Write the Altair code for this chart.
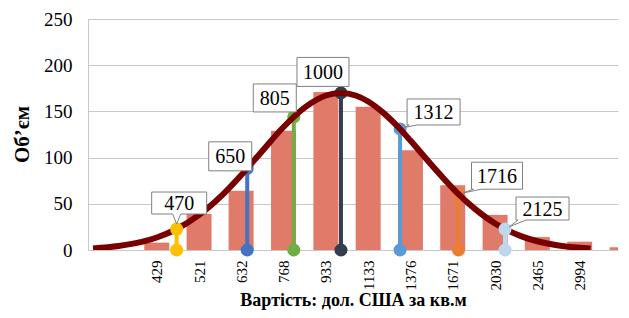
import math
import altair as alt
import pandas as pd

# ---------------- data ----------------
categories = [429, 521, 632, 768, 933, 1133, 1376, 1671, 2030, 2465, 2994, 3640]
volumes = [8, 39, 64, 129, 171, 155, 108, 70, 38, 14, 9, 3]
tick_values = [429, 521, 632, 768, 933, 1133, 1376, 1671, 2030, 2465, 2994]

curve_x = [320, 360, 400, 429, 470, 521, 580, 632, 700, 768, 850, 933, 1000,
           1070, 1133, 1220, 1312, 1376, 1500, 1671, 1716, 1850, 2030, 2125,
           2300, 2465, 2700, 2994, 3150]
curve_y = [1.7, 4.3, 8.7, 13.5, 22.7, 38.0, 59.7, 80.9, 108.6, 133.1, 154.9,
           167.2, 170.0, 167.2, 160.7, 147.6, 131.0, 118.4, 94.9, 66.8, 60.4,
           44.5, 28.7, 22.7, 14.5, 9.5, 5.2, 2.4, 1.6]

marker_x = [470, 650, 805, 1000, 1312, 1716, 2125]
marker_y = [22.7, 88.4, 144.0, 170.0, 131.0, 60.4, 22.7]
marker_labels = ["470", "650", "805", "1000", "1312", "1716", "2125"]

# ---------------- styles ----------------
line_colors = ["#FFC000", "#4472C4", "#70AD47", "#333F50", "#5B9BD5", "#ED7D31", "#BDD7EE"]
dot_colors = ["#9C6B00", "#3F72D0", "#70AD47", "#222A35", "#2E6DB4", "#9E480E", "#7EB2E4"]
under_curve = [False, True, True, True, True, True, False]
# callout box: centre offset from the point (px), width, height
box_geom = [(2.5, -26, 55, 22), (-17, -12, 43, 29), (-19, -19, 43, 28),
            (-18, -21, 52, 29), (33.5, -17, 53, 26), (38.5, -18.5, 51, 27),
            (37.5, -20.5, 53, 23)]

SERIF = "Liberation Serif"
x_scale = alt.Scale(type="log", domain=[320, 3490], nice=False)
y_scale = alt.Scale(domain=[0, 250], nice=False)

bars_df = pd.DataFrame({"x": categories, "v": volumes})
curve_df = pd.DataFrame({"x": curve_x, "v": curve_y})
rules_df = pd.DataFrame({"x": marker_x, "v": marker_y, "lab": marker_labels, "z": [0] * 7})

x_axis = alt.Axis(values=tick_values, format="d", labelAngle=-90, labelFont=SERIF,
                  labelFontSize=15, labelColor="black", labelPadding=10, ticks=False,
                  grid=False, domainColor="#C8C8C8", labelFlush=False, labelOverlap=False,
                  title="Вартість: дол. США за кв.м", titleFont=SERIF, titleFontSize=18,
                  titleFontWeight="bold", titleColor="black", titleY=55,
                  titleBaseline="alphabetic")
y_axis = alt.Axis(values=[0, 50, 100, 150, 200, 250], labelFont=SERIF, labelFontSize=19,
                  labelColor="black", labelPadding=16, ticks=False, gridColor="#C8C8C8",
                  domainColor="#C8C8C8", title="Об’єм", titleFont=SERIF, titleFontSize=21,
                  titleFontWeight="bold", titleColor="black", titleX=-66, titleY=115,
                  titleAlign="center", titleBaseline="middle", titleAngle=-90)

bars = alt.Chart(bars_df).mark_bar(width=25, color="#E07B6A", clip=True).encode(
    x=alt.X("x:Q", scale=x_scale, axis=x_axis),
    y=alt.Y("v:Q", scale=y_scale, axis=y_axis),
)

line_color = alt.Color("lab:N", scale=alt.Scale(domain=marker_labels, range=line_colors), legend=None)
dot_color = alt.Color("lab:N", scale=alt.Scale(domain=marker_labels, range=dot_colors), legend=None)

rules = alt.Chart(rules_df).mark_rule(strokeWidth=4).encode(
    x=alt.X("x:Q", scale=x_scale), y=alt.Y("z:Q", scale=y_scale), y2="v:Q", color=line_color)

bottom_dots = alt.Chart(rules_df).mark_point(filled=True, size=170, opacity=1).encode(
    x=alt.X("x:Q", scale=x_scale), y=alt.Y("z:Q", scale=y_scale), color=dot_color)

under_df = rules_df[[u for u in under_curve]]
over_df = rules_df[[not u for u in under_curve]]
top_under = alt.Chart(under_df).mark_point(filled=True, size=170, opacity=1).encode(
    x=alt.X("x:Q", scale=x_scale), y=alt.Y("v:Q", scale=y_scale), color=dot_color)
top_over = alt.Chart(over_df).mark_point(filled=True, size=170, opacity=1).encode(
    x=alt.X("x:Q", scale=x_scale), y=alt.Y("v:Q", scale=y_scale), color=dot_color)

curve = alt.Chart(curve_df).mark_line(color="#780000", strokeWidth=6, interpolate="monotone",
                                      clip=True).encode(
    x=alt.X("x:Q", scale=x_scale), y=alt.Y("v:Q", scale=y_scale))


def callout_path(dx, dy, w, h):
    left, right = dx - w / 2, dx + w / 2
    top, bottom = dy - h / 2, dy + h / 2
    bc = min(max(0.0, left + 6), right - 6)
    dist = math.hypot(bc, bottom)
    pts = [(left, top), (right, top), (right, bottom)]
    if dist > 8:
        ux, uy = bc / dist, bottom / dist
        tip = (ux * 5, uy * 5)
        pts += [(bc + 4, bottom), tip, (bc - 4, bottom)]
    pts += [(left, bottom)]
    return "M" + "L".join(f"{px:.1f},{py:.1f}" for px, py in pts) + "Z"


label_layers = []
for i, lab in enumerate(marker_labels):
    dx, dy, w, h = box_geom[i]
    one = rules_df.iloc[[i]]
    box = alt.Chart(one).mark_point(shape=callout_path(dx, dy, w, h), size=4, filled=True,
                                    fill="white", stroke="#808080", strokeWidth=1,
                                    opacity=1).encode(
        x=alt.X("x:Q", scale=x_scale), y=alt.Y("v:Q", scale=y_scale))
    txt = alt.Chart(one).mark_text(dx=dx, dy=dy + 1, font=SERIF, fontSize=20, color="black",
                                   align="center", baseline="middle").encode(
        x=alt.X("x:Q", scale=x_scale), y=alt.Y("v:Q", scale=y_scale), text="lab:N")
    label_layers += [box, txt]

chart = alt.layer(bars, rules, bottom_dots, top_under, curve, top_over, *label_layers).properties(
    width=530, height=231,
    autosize=alt.AutoSizeParams(type="none"),
    padding={"left": 80, "top": 11, "right": 3, "bottom": 60},
    background="white",
).configure_view(strokeWidth=0)

chart.save("out.html", embed_options={"renderer": "svg", "actions": False})
